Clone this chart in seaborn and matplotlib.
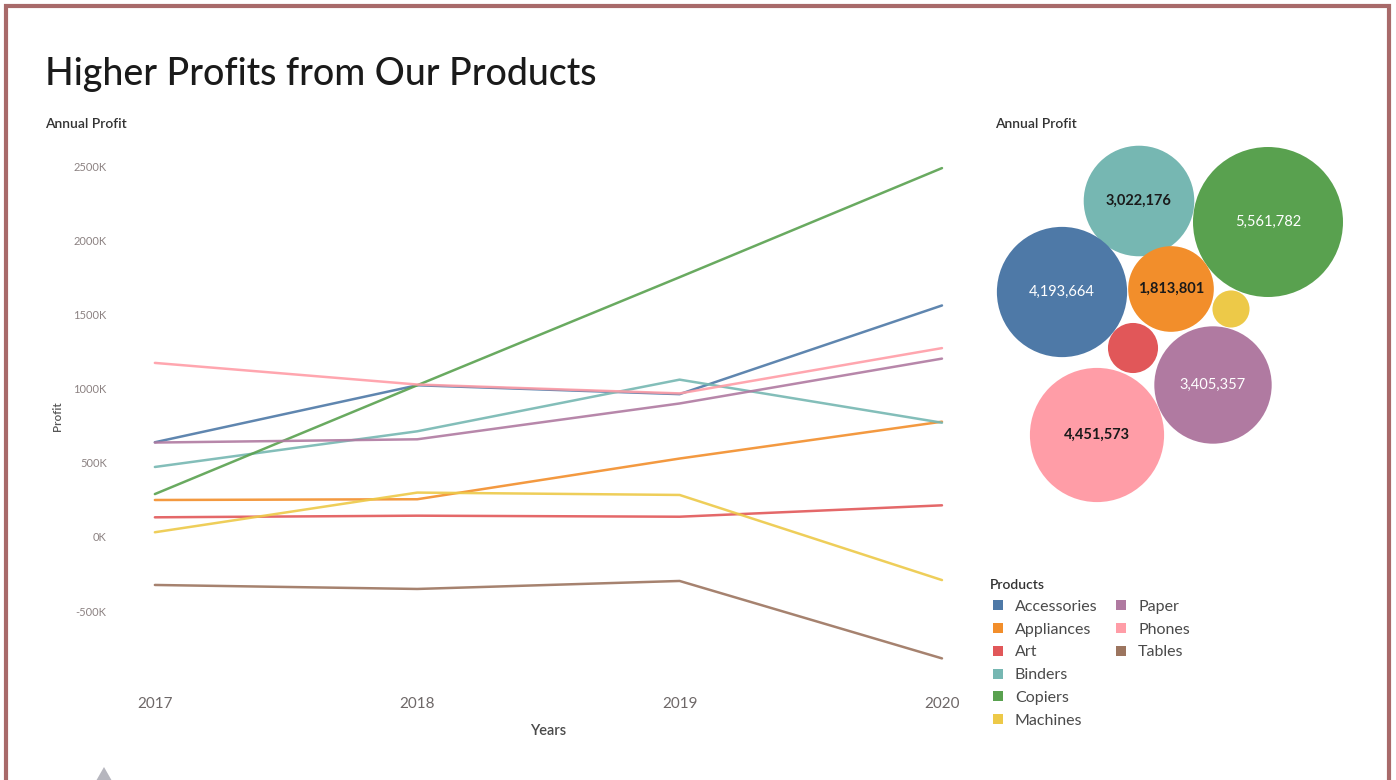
import matplotlib
matplotlib.use("Agg")
import matplotlib.pyplot as plt
from matplotlib.lines import Line2D
from matplotlib.patches import Rectangle, Polygon
from matplotlib.ticker import FuncFormatter, FixedLocator
import pandas as pd
import seaborn as sns

# ---------------------------------------------------------------- data
years = [2017, 2018, 2019, 2020]
products = ["Accessories", "Appliances", "Art", "Binders", "Copiers",
            "Machines", "Paper", "Phones", "Tables"]

# yearly profit per product, in thousands
accessories = [640, 1025, 965, 1564]
appliances = [250, 255, 530, 779]
art = [133, 144, 137, 214]
binders = [473, 714, 1063, 772]
copiers = [290, 1025, 1755, 2492]
machines = [32, 300, 284, -291]
paper = [638, 660, 902, 1205]
phones = [1176, 1030, 970, 1276]
tables = [-324, -351, -297, -820]

# total profit for the products in the bubble pack
bubble_products = ["Binders", "Copiers", "Accessories", "Appliances",
                   "Machines", "Art", "Paper", "Phones"]
bubble_totals = [3022176, 5561782, 4193664, 1813801,
                 340000, 620000, 3405357, 4451573]
labelled = {"Binders", "Copiers", "Accessories", "Appliances", "Paper", "Phones"}

y_ticks = [-500, 0, 500, 1000, 1500, 2000, 2500]

palette = {
    "Accessories": "#4e79a7", "Appliances": "#f28e2b", "Art": "#e15759",
    "Binders": "#76b7b2", "Copiers": "#59a14f", "Machines": "#edc948",
    "Paper": "#b07aa1", "Phones": "#ff9da7", "Tables": "#9c755f",
}

# ---------------------------------------------------------------- layout
W, H = 1396, 780
sns.set_style("white")
plt.rcParams["font.family"] = ["Lato", "DejaVu Sans"]

fig = plt.figure(figsize=(W / 100, H / 100), dpi=100)
fig.patch.set_facecolor("white")


def px_rect(x0, y0, x1, y1):
    return [x0 / W, 1 - y1 / H, (x1 - x0) / W, (y1 - y0) / H]


def fx(x):
    return x / W


def fy(y):
    return 1 - y / H


# frame around the dashboard
fig.add_artist(Rectangle((fx(6), fy(820)), fx(1389) - fx(6), fy(6) - fy(820),
                         transform=fig.transFigure, fill=False,
                         edgecolor="#a86a6a", linewidth=3.0, clip_on=False))
# small pointer glyph at the bottom edge
fig.add_artist(Polygon([(fx(96), fy(781)), (fx(104), fy(767)), (fx(112), fy(781))],
                       closed=True, transform=fig.transFigure,
                       facecolor="#b6b6be", edgecolor="none"))

fig.text(fx(45), fy(75), "Higher Profits from Our Products", fontsize=27,
         color="#1a1a1a", ha="left", va="center", fontweight="medium")
fig.text(fx(45), fy(124), "Annual Profit", fontsize=10, color="#333333",
         ha="left", va="center", fontweight="semibold")
fig.text(fx(995), fy(124), "Annual Profit", fontsize=10, color="#333333",
         ha="left", va="center", fontweight="semibold")

# ---------------------------------------------------------------- line chart
series = [accessories, appliances, art, binders, copiers, machines, paper,
          phones, tables]
rows = []
for name, vals in zip(products, series):
    for yr, v in zip(years, vals):
        rows.append({"Years": yr, "Profit": v * 1000, "Product": name})
df = pd.DataFrame(rows)

ax = fig.add_axes(px_rect(115, 145, 985, 680))
sns.lineplot(data=df, x="Years", y="Profit", hue="Product", hue_order=products,
             palette=palette, linewidth=1.8, legend=False, ax=ax)
for ln in ax.lines:
    ln.set_alpha(0.9)
    ln.set_solid_joinstyle("round")

ax.set_xlim(2016.848, 2020.164)
ax.set_ylim(-966000, 2648000)
ax.xaxis.set_major_locator(FixedLocator(years))
ax.yaxis.set_major_locator(FixedLocator([t * 1000 for t in y_ticks]))
ax.yaxis.set_major_formatter(FuncFormatter(lambda v, _: f"{v / 1000:.0f}K"))
ax.xaxis.set_major_formatter(FuncFormatter(lambda v, _: f"{v:.0f}"))
ax.tick_params(axis="y", length=0, pad=6, labelsize=8, labelcolor="#8c8282")
ax.tick_params(axis="x", length=0, pad=12.5, labelsize=11, labelcolor="#6e6868")
for s in ax.spines.values():
    s.set_visible(False)
ax.grid(False)
ax.set_xlabel("")
ax.set_ylabel("")
fig.text(fx(548), fy(731), "Years", fontsize=10.5, color="#4a4a4a",
         ha="center", va="center", fontweight="semibold")
fig.text(fx(58), fy(416), "Profit", fontsize=8.5, color="#555555",
         ha="center", va="center", rotation=90, fontweight="semibold")

# ---------------------------------------------------------------- bubble pack
# packed centres of the bubbles, in pixel units of the bubble panel
pack_centres = {
    "Binders": (1139, 201), "Copiers": (1268, 222), "Accessories": (1062, 292),
    "Appliances": (1171, 289), "Machines": (1231, 309), "Art": (1133, 348),
    "Paper": (1213, 385), "Phones": (1097, 435),
}
bub = pd.DataFrame({"Product": bubble_products, "Total": bubble_totals})
bub["cx"] = [pack_centres[p][0] for p in bubble_products]
bub["cy"] = [pack_centres[p][1] for p in bubble_products]

axb = fig.add_axes(px_rect(980, 130, 1380, 520))
axb.set_xlim(980, 1380)
axb.set_ylim(520, 130)
largest_diam_pt = 150 * 0.72
sns.scatterplot(data=bub, x="cx", y="cy", hue="Product", palette=palette,
                size="Total", sizes=(0, largest_diam_pt ** 2),
                size_norm=(0, max(bubble_totals)), linewidth=0,
                legend=False, ax=axb)
for _, r in bub.iterrows():
    if r["Product"] not in labelled:
        continue
    dark = r["Product"] in {"Binders", "Appliances", "Phones"}
    axb.text(r["cx"], r["cy"], f"{r['Total']:,}", ha="center", va="center",
             fontsize=10.5, color="#1a1a1a" if dark else "white",
             fontweight="bold" if dark else "normal")
axb.set_axis_off()

# ---------------------------------------------------------------- legend
handles = [Line2D([], [], marker="s", linestyle="", markersize=7.2,
                  markeredgewidth=0, color=palette[p], label=p) for p in products]
# empty slots so the first column holds six entries and the second three
blank = [Line2D([], [], linestyle="", marker="", label="") for _ in range(3)]
leg = fig.legend(handles=handles + blank,
                 labels=products + [""] * 3,
                 ncol=2, loc="upper left",
                 bbox_to_anchor=(fx(990), fy(579)), frameon=False,
                 title="Products", alignment="left", fontsize=11.5,
                 title_fontsize=10, handlelength=1.0, handletextpad=0.55,
                 labelspacing=0.54, columnspacing=1.0, borderpad=0,
                 borderaxespad=0)
leg.get_title().set_color("#333333")
leg.get_title().set_fontweight("semibold")
for t in leg.get_texts():
    t.set_color("#4a4a4a")

fig.savefig("out.png", dpi=100, facecolor="white")
